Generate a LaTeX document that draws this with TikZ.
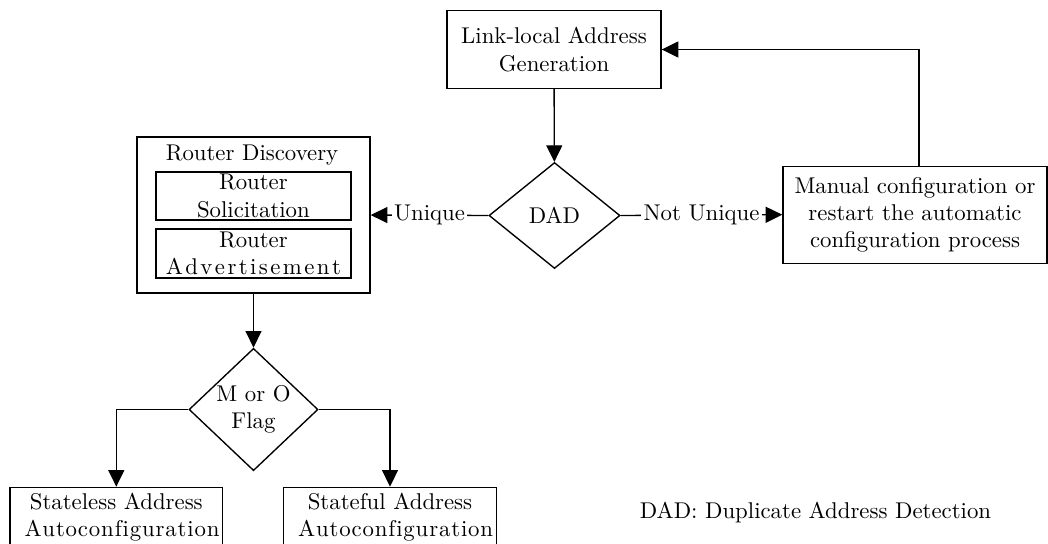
\documentclass[tikz,border=0pt]{standalone}
\usetikzlibrary{arrows.meta,shapes.geometric,calc}

% one drawing unit in points
\def\pxs{0.4386pt}
% a word set with its letters spread over a given width
\newcommand\spreadbox[2]{\hbox to #1{#2}}

\tikzset{
  box/.style={draw, rectangle, inner sep=0pt, align=center},
  decision/.style={draw, diamond, inner sep=0pt, align=center},
  flow/.style={draw, -{Triangle[length=7.3pt,width=7pt]}},
  lbl/.style={fill=white, inner sep=1pt},
}

\begin{document}
\begin{tikzpicture}[x=0.4386pt, y=-0.4386pt, line width=0.6pt]
  \useasboundingbox (0,0) rectangle (1048,543);
  \fill[white] (0,0) rectangle (1048,543);
  \clip (0,0) rectangle (1048,543);

  % address generation and duplicate check
  \node[box, minimum width=214*\pxs, minimum height=77.5*\pxs] (lla) at (554,49.5)
    {Link-local Address\\Generation};
  \node[decision, minimum width=131*\pxs, minimum height=106*\pxs] (dad) at (554.5,215.5) {DAD};

  % router discovery group
  \node[box, minimum width=233*\pxs, minimum height=156*\pxs] (rd) at (253.5,215) {};
  \node[anchor=base] (rdt) at (252,160) {Router Discovery};
  \node[box, minimum width=195*\pxs, minimum height=48*\pxs] (rs) at (253.4,196)
    {Router\\Solicitation};
  \node[box, minimum width=195*\pxs, minimum height=49*\pxs] (ra) at (253.4,253.6)
    {Router\\\makebox[72pt][c]{\spreadbox{76.8pt}{A\hfil d\hfil v\hfil e\hfil r\hfil t\hfil i\hfil s\hfil e\hfil m\hfil e\hfil n\hfil t}}};

  % fallback when the address is not unique
  \node[box, minimum width=264*\pxs, minimum height=97*\pxs] (mc) at (915,214.7)
    {Manual configuration or\\restart the automatic\\configuration process};

  % flag decision and the two autoconfiguration modes
  \node[decision, minimum width=129*\pxs, minimum height=116*\pxs] (mo) at (253.5,409.5)
    {M or O\\Flag};
  \node[box, anchor=north, minimum width=212.7*\pxs, minimum height=60*\pxs] (sl) at (116.3,486.7)
    {Stateless Address\\\makebox[80.5pt][l]{\spreadbox{85.5pt}{A\hfil u\hfil t\hfil o\hfil c\hfil o\hfil n\hfil f\hfil i\hfil g\hfil u\hfil r\hfil a\hfil t\hfil i\hfil o\hfil n}}};
  \node[box, anchor=north, minimum width=213.4*\pxs, minimum height=60*\pxs] (sf) at (390,486.7)
    {Stateful Address\\\makebox[80.5pt][l]{\spreadbox{85.5pt}{A\hfil u\hfil t\hfil o\hfil c\hfil o\hfil n\hfil f\hfil i\hfil g\hfil u\hfil r\hfil a\hfil t\hfil i\hfil o\hfil n}}};

  % legend
  \node[anchor=base] (note) at (815.5,518) {DAD: Duplicate Address Detection};

  % connectors
  \draw[flow] (lla) -- (dad);
  \draw[flow] (dad.west) -- node[lbl] {Unique} (rd.east);
  \draw[flow] (dad.east) -- node[lbl] {Not Unique} (mc.west);
  \draw[flow] ($(mc.north)+(4,0)$) |- (lla.east);
  \draw[flow] (rd) -- (mo);
  \draw[flow] (mo.west) -| (sl.north);
  \draw[flow] (mo.east) -| (sf.north);
\end{tikzpicture}
\end{document}
